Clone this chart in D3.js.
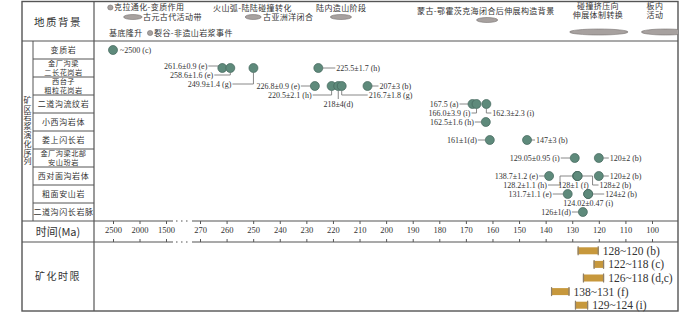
<!DOCTYPE html>
<html lang="zh">
<head>
<meta charset="UTF-8" />
<title>矿区岩浆演化序列</title>
<style>
  body { margin: 0; background: #fff; }
  .chart { width: 700px; height: 313px; }
  .cjk { font-family: "Noto Sans CJK SC", sans-serif; fill: #333; }
  .num { font-family: "Liberation Serif", "DejaVu Serif", serif; fill: #333; }
</style>
</head>
<body>
<div class="chart"></div>
<script src="https://d3js.org/d3.v7.min.js"></script>
<script>
// 岩体 / 序列
const rockUnits = [
  ['变质岩'], ['金厂沟梁', '二长花岗岩'], ['西台子', '粗粒花岗岩'], ['二道沟流纹岩'],
  ['小西沟岩体'], ['娄上闪长岩'], ['金厂沟梁北部', '安山玢岩'], ['西对面沟岩体'],
  ['粗面安山岩'], ['二道沟闪长岩脉']
]
const tickValues = [2500, 2000, 1500, 270, 260, 250, 240, 230, 220, 210, 200, 190, 180, 170, 160, 150, 140, 130, 120, 110, 100]

// 测年数据 (所属岩体, 年龄 Ma, 标注)
const ageUnit = [0, 1, 1, 1, 1, 2, 2, 2, 2, 2, 3, 3, 3, 4, 5, 5, 6, 6, 7, 7, 7, 7, 7, 8, 8, 8, 9]
const ageValue = [2500, 261.6, 258.6, 249.9, 225.5, 226.8, 220.5, 218, 216.7, 207, 167.5, 166.0, 162.3, 162.5,
  161, 147, 129.05, 120, 138.7, 128.2, 128, 128, 120, 131.7, 124.02, 124, 126]
const ageText = ['~2500 (c)', '261.6±0.9 (e)', '258.6±1.6 (e)', '249.9±1.4 (g)', '225.5±1.7 (h)',
  '226.8±0.9 (e)', '220.5±2.1 (h)', '218±4(d)', '216.7±1.8 (g)', '207±3 (b)',
  '167.5 (a)', '166.0±3.9 (i)', '162.3±2.3 (i)', '162.5±1.6 (h)', '161±1(d)', '147±3 (b)',
  '129.05±0.95 (i)', '120±2 (b)', '138.7±1.2 (e)', '128.2±1.1 (h)', '128±1 (f)', '128±2 (b)', '120±2 (b)',
  '131.7±1.1 (e)', '124.02±0.47 (i)', '124±2 (b)', '126±1(d)']

// 矿化时限
const oreOld = [128, 122, 126, 138, 129]
const oreYoung = [120, 118, 118, 131, 124]
const oreText = ['128~120 (b)', '122~118 (c)', '126~118 (d,c)', '138~131 (f)', '129~124 (i)']

// 地质背景事件 (时间范围)
const eventOld = [2600, 2300, 1850, 253, 221, 166, 131, 104]
const eventYoung = [2500, 1950, 1750, 247, 213, 158, 109, 86]

// ---- 版面 ----
const W = 700, H = 313
const fr = { left: 22, right: 678, top: 1.5, bottom: 311 }
const colLabel = 94, colSide = 33
const headBottom = 41, seqBottom = 221, timeBottom = 242
const lineColor = '#555'

// 标注位置: [方向, 文字偏移x, 文字偏移y, 折线x, 是否连线]
const labelPos = [
  ['r', 7, 0, 0, false], ['l', -15, -2], ['l', -17, 7], ['l', -22, 16], ['r', 18, 0],
  ['l', -15, 0], ['l', -20, 9], ['b', 0, 18], ['r', 27, 9], ['r', 12, 0],
  ['l', -14, 0], ['l', -6, 9], ['r', 6, 9], ['l', -12, 0], ['l', -13, 0], ['r', 9, 0],
  ['l', -15, 0], ['r', 11, 0], ['l', -11, 0], ['l', -30, 9, -17], ['b', -4, 9, 0, false], ['r', 22, 9, 15], ['r', 11, 0],
  ['l', -16, 0], ['b', 0, 9, 0, false], ['r', 17, 0], ['l', -12, 0]
]
const eventY = [7.5, 17, 33, 17, 17, 20, 32, 32]
const eventRy = [2.5, 2.5, 2.5, 2.5, 2.5, 2.5, 3, 3]
const headerText = [
  ['克拉通化-变质作用', 114, 7.5, 'start'], ['古元古代活动带', 143, 17, 'start'],
  ['基底隆升', 109, 33, 'start'], ['裂谷-非造山岩浆事件', 154, 33, 'start'],
  ['火山弧-陆陆碰撞转化', 213, 8.5, 'start'], ['古亚洲洋闭合', 263, 17, 'start'],
  ['陆内造山阶段', 316, 8.5, 'start'], ['蒙古-鄂霍茨克海闭合后伸展构造背景', 417, 11, 'start']
]
const headerBlock = [
  [['碰撞挤压向', '伸展体制转换'], 598, 10.5],
  [['板内', '活动'], 655, 10.5]
]

const svg = d3.select('.chart').append('svg').attr('width', W).attr('height', H)

svg.append('clipPath').attr('id', 'frameClip')
  .append('rect').attr('x', fr.left).attr('y', fr.top)
  .attr('width', fr.right - fr.left).attr('height', fr.bottom - fr.top)

// 时间比例尺 (前寒武纪部分压缩)
const x = d3.scaleLinear()
  .domain([2500, 1500, 270, 100])
  .range([113, 166, 200, 652])

const yUnit = d3.scaleBand().domain(d3.range(rockUnits.length)).range([headBottom, seqBottom])
const yOre = d3.scaleBand().domain(d3.range(oreText.length)).range([timeBottom + 2, fr.bottom + 1])

// ---- 表格框线 ----
const grid = svg.append('g').attr('stroke', lineColor).attr('fill', 'none')
grid.append('rect').attr('x', fr.left).attr('y', fr.top)
  .attr('width', fr.right - fr.left).attr('height', fr.bottom - fr.top).attr('stroke-width', 1.4)
grid.append('line').attr('x1', colLabel).attr('x2', colLabel).attr('y1', fr.top).attr('y2', fr.bottom).attr('stroke-width', 1.2)
grid.append('line').attr('x1', colSide).attr('x2', colSide).attr('y1', headBottom).attr('y2', seqBottom).attr('stroke-width', 1)
grid.append('line').attr('x1', fr.left).attr('x2', fr.right).attr('y1', headBottom).attr('y2', headBottom).attr('stroke-width', 1.2)

grid.selectAll('.rowline')
  .data(d3.range(1, rockUnits.length))
  .join('line')
  .attr('x1', colSide).attr('x2', colLabel)
  .attr('y1', d => yUnit(d)).attr('y2', d => yUnit(d))
  .attr('stroke-width', 1)

// 时间轴上下两条线 (1500 与 270 之间断开)
const breakA = x(1500) + 7, breakB = x(270) - 8
;[seqBottom, timeBottom].forEach(yy => {
  grid.append('line').attr('x1', fr.left).attr('x2', breakA).attr('y1', yy).attr('y2', yy).attr('stroke-width', 1.2)
  grid.append('line').attr('x1', breakB).attr('x2', fr.right).attr('y1', yy).attr('y2', yy).attr('stroke-width', 1.2)
  grid.append('line').attr('x1', breakA + 3).attr('x2', breakB - 2).attr('y1', yy).attr('y2', yy)
    .attr('stroke-width', 1.2).attr('stroke-dasharray', '1.5,3.5')
})

// ---- 时间轴 ----
const axisTop = d3.axisBottom(x).tickValues(tickValues).tickSize(3).tickPadding(3).tickFormat(d3.format('d'))
const axisG = svg.append('g').attr('transform', `translate(0, ${seqBottom})`).call(axisTop)
axisG.select('.domain').remove()
axisG.selectAll('line').attr('stroke', lineColor)
axisG.selectAll('text').attr('class', 'num').style('font-size', '8.5px').attr('fill', '#333')

const axisBot = d3.axisTop(x).tickValues(tickValues).tickSize(3).tickFormat('')
const axisG2 = svg.append('g').attr('transform', `translate(0, ${timeBottom})`).call(axisBot)
axisG2.select('.domain').remove()
axisG2.selectAll('line').attr('stroke', lineColor)

// ---- 左侧标题 ----
svg.append('text').attr('class', 'cjk').attr('x', (fr.left + colLabel) / 2).attr('y', 22)
  .attr('text-anchor', 'middle').attr('dy', '0.35em')
  .style('font-size', '10.5px').style('letter-spacing', '1.5px').text('地质背景')

svg.append('text').attr('class', 'cjk').attr('x', (fr.left + colLabel) / 2).attr('y', 232)
  .attr('text-anchor', 'middle').attr('dy', '0.35em').style('font-size', '11px')
  .text('时间(Ma)')

svg.append('text').attr('class', 'cjk').attr('x', (fr.left + colLabel) / 2).attr('y', 276)
  .attr('text-anchor', 'middle').attr('dy', '0.35em')
  .style('font-size', '10px').style('letter-spacing', '1.5px').text('矿化时限')

// 竖排标题
svg.append('text')
  .attr('class', 'cjk')
  .attr('x', (fr.left + colSide) / 2)
  .attr('y', (headBottom + seqBottom) / 2)
  .attr('text-anchor', 'middle')
  .style('writing-mode', 'vertical-rl')
  .style('font-size', '8px')
  .style('letter-spacing', '0.8px')
  .text('矿区岩浆演化序列')

// 岩体名称 (两行的用 tspan)
const unitText = svg.append('g').selectAll('text')
  .data(rockUnits)
  .join('text')
  .attr('class', 'cjk')
  .attr('text-anchor', 'middle')
  .attr('y', (d, i) => yUnit(i) + yUnit.bandwidth() / 2 - (d.length - 1) * 4.3)
  .style('font-size', d => d.length > 1 ? '7.2px' : '8px')
  .style('letter-spacing', d => d.length > 1 ? '0.5px' : '0.6px')

unitText.selectAll('tspan')
  .data(d => d)
  .join('tspan')
  .attr('x', (colSide + colLabel) / 2)
  .attr('dy', (d, k) => k === 0 ? '0.35em' : '8.6')
  .text(d => d)

// ---- 地质背景 ----
const headG = svg.append('g').attr('clip-path', 'url(#frameClip)')
headG.selectAll('ellipse')
  .data(eventOld)
  .join('ellipse')
  .attr('cx', (d, i) => (x(d) + x(eventYoung[i])) / 2)
  .attr('cy', (d, i) => eventY[i])
  .attr('rx', (d, i) => Math.abs(x(eventYoung[i]) - x(d)) / 2)
  .attr('ry', (d, i) => eventRy[i])
  .attr('fill', '#a7a19f')
  .attr('stroke', '#75706e')
  .attr('stroke-width', 0.6)

headG.selectAll('text.one')
  .data(headerText)
  .join('text')
  .attr('class', 'cjk one')
  .attr('x', d => d[1]).attr('y', d => d[2])
  .attr('text-anchor', d => d[3]).attr('dy', '0.35em')
  .style('font-size', '8px').style('letter-spacing', '0.4px')
  .text(d => d[0])

headG.selectAll('text.two')
  .data(headerBlock)
  .join('text')
  .attr('class', 'cjk two')
  .attr('y', d => d[2] - 4.75)
  .attr('text-anchor', 'middle')
  .style('font-size', '8px').style('letter-spacing', '0.4px')
  .selectAll('tspan')
  .data(d => d[0].map(s => ({ s, cx: d[1] })))
  .join('tspan')
  .attr('x', d => d.cx)
  .attr('dy', (d, k) => k === 0 ? '0.35em' : '9.5')
  .text(d => d.s)

// ---- 测年点 ----
const r = 4.5
const pts = ageValue.map((v, i) => {
  const p = labelPos[i]
  return {
    cx: x(v), cy: yUnit(ageUnit[i]) + yUnit.bandwidth() / 2,
    text: ageText[i], side: p[0], tx: p[1], dy: p[2], kx: p[3] || 0, line: p[4] !== false
  }
})

const leader = d => {
  const ly = d.cy + d.dy
  if (d.side === 'b') return [[d.cx, d.cy + r], [d.cx, ly - 5]]
  const s = d.side === 'l' ? -1 : 1
  const edge = d.cx + d.tx - s * 1
  if (d.dy === 0) return [[edge, ly], [d.cx + s * r, d.cy]]
  if (d.kx === 0) return [[edge, ly], [d.cx, ly], [d.cx, d.cy + (d.dy > 0 ? r : -r)]]
  return [[edge, ly], [d.cx + d.kx, ly], [d.cx + d.kx, d.cy], [d.cx + s * r, d.cy]]
}

svg.append('g')
  .selectAll('path')
  .data(pts.filter(d => d.line))
  .join('path')
  .attr('d', d => d3.line()(leader(d)))
  .attr('fill', 'none')
  .attr('stroke', '#7a7a7a')
  .attr('stroke-width', 0.9)

svg.append('g')
  .selectAll('circle')
  .data(pts)
  .join('circle')
  .attr('cx', d => d.cx).attr('cy', d => d.cy).attr('r', r)
  .attr('fill', '#5e8a7b')
  .attr('stroke', '#44665b')
  .attr('stroke-width', 0.7)

svg.append('g')
  .selectAll('text')
  .data(pts)
  .join('text')
  .attr('class', 'num')
  .attr('x', d => d.cx + d.tx)
  .attr('y', d => d.cy + d.dy)
  .attr('dy', '0.35em')
  .attr('text-anchor', d => d.side === 'l' ? 'end' : d.side === 'r' ? 'start' : 'middle')
  .style('font-size', '8px')
  .text(d => d.text)

// ---- 矿化时限 ----
const oreG = svg.append('g').selectAll('g')
  .data(oreText)
  .join('g')
  .attr('transform', (d, i) => `translate(0, ${yOre(i) + yOre.bandwidth() / 2})`)

oreG.append('rect')
  .attr('x', (d, i) => x(oreOld[i]))
  .attr('y', -3.5)
  .attr('width', (d, i) => x(oreYoung[i]) - x(oreOld[i]))
  .attr('height', 7)
  .attr('fill', '#c7983c')

oreG.selectAll('line')
  .data((d, i) => [x(oreOld[i]) + 0.6, x(oreYoung[i]) - 0.6])
  .join('line')
  .attr('x1', d => d).attr('x2', d => d)
  .attr('y1', -4.5).attr('y2', 4.5)
  .attr('stroke', '#8c7f6c')
  .attr('stroke-width', 1.2)

oreG.append('text')
  .attr('class', 'num')
  .attr('x', (d, i) => x(oreYoung[i]) + 4)
  .attr('dy', '0.35em')
  .style('font-size', '11.5px')
  .text(d => d)
</script>
</body>
</html>
